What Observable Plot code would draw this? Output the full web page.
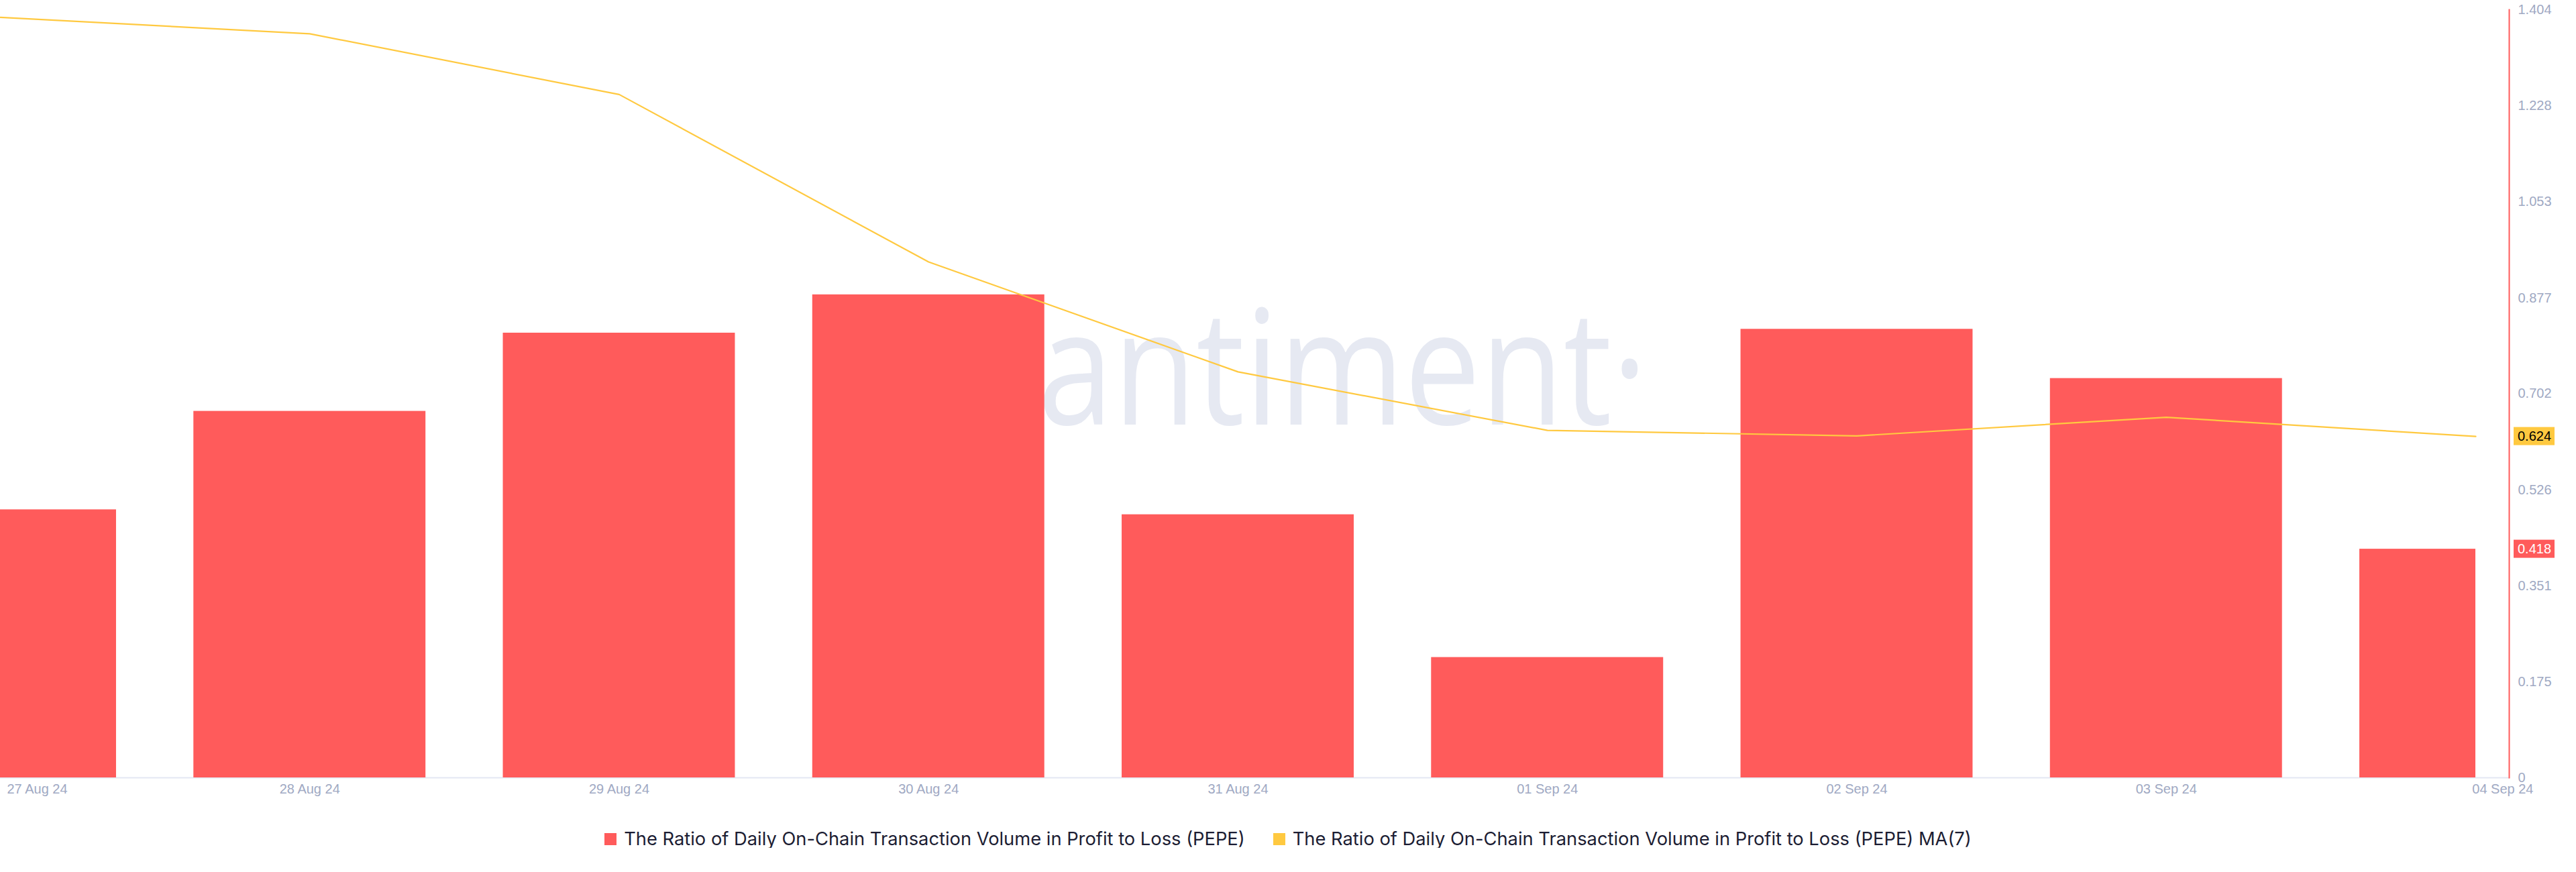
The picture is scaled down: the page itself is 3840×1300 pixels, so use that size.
<!DOCTYPE html>
<html>
<head>
<meta charset="utf-8">
<script src="https://cdn.jsdelivr.net/npm/d3@7"></script>
<script src="https://cdn.jsdelivr.net/npm/@observablehq/plot@0.6"></script>
<style>
  body { margin: 0; background: #ffffff; }
  #legend {
    display: flex; justify-content: center; align-items: center; gap: 42px;
    margin-top: 38px; font-family: Inter, "Noto Sans", sans-serif; font-size: 27.3px;
    line-height: 26px; color: #1c1d33;
  }
  #legend .item { display: flex; align-items: center; gap: 11px; }
  #legend .sw { width: 18px; height: 18px; }
</style>
</head>
<body>
<div id="chart"></div>
<div id="legend"></div>
<script>
// Daily values for PEPE, 27 Aug – 04 Sep 2024
const dates = ["2024-08-27", "2024-08-28", "2024-08-29", "2024-08-30", "2024-08-31",
               "2024-09-01", "2024-09-02", "2024-09-03", "2024-09-04"];
const ratio = [0.490, 0.670, 0.813, 0.883, 0.481, 0.220, 0.820, 0.730, 0.418];
const ratioMA7 = [1.390, 1.360, 1.249, 0.943, 0.742, 0.635, 0.625, 0.659, 0.624];
const yTicks = [0, 0.175, 0.351, 0.526, 0.702, 0.877, 1.053, 1.228, 1.404];
const seriesNames = [
  "The Ratio of Daily On-Chain Transaction Volume in Profit to Loss (PEPE)",
  "The Ratio of Daily On-Chain Transaction Volume in Profit to Loss (PEPE) MA(7)"
];
const seriesColors = ["#ff5b5b", "#ffc940"];
const badgeTextColors = ["#ffffff", "#000000"];

const data = dates.map((d, i) => ({date: new Date(d), ratio: ratio[i], ma: ratioMA7[i]}));
const start = data[0].date, end = data[data.length - 1].date;
const halfBar = 9 * 3600 * 1000; // bars take 75% of each day
const fmtDate = d3.utcFormat("%d %b %y");
const fmtVal = v => v === 0 ? "0" : v.toFixed(3);

// faint brand mark behind the bars
function watermark(index, scales, values, dim) {
  const fw = dim.width - dim.marginLeft - dim.marginRight;
  const fh = dim.height - dim.marginTop - dim.marginBottom;
  const t = d3.create("svg:text")
    .attr("x", dim.marginLeft + fw * 0.5223)
    .attr("y", dim.marginTop + fh * 0.5406)
    .attr("text-anchor", "middle")
    .attr("font-family", "Open Sans, sans-serif")
    .attr("font-size", 238)
    .attr("fill", "#e6e9f2")
    .attr("textLength", 1005)
    .attr("lengthAdjust", "spacingAndGlyphs")
    .text("santiment\u00b7");
  return t.node();
}

// latest-value badges on the right axis
function badges(index, scales, values, dim) {
  const g = d3.create("svg:g")
    .attr("font-family", "Liberation Sans, Arial, sans-serif")
    .attr("font-size", 20)
    .attr("text-anchor", "start");
  const x0 = dim.width - dim.marginRight + 7;
  const last = [ratio[ratio.length - 1], ratioMA7[ratioMA7.length - 1]];
  [1, 0].forEach(k => {
    const v = last[k];
    const y = scales.y(v);
    g.append("rect").attr("x", x0).attr("y", y - 13.5).attr("width", 61).attr("height", 27)
      .attr("fill", seriesColors[k]);
    g.append("text").attr("x", x0 + 6).attr("y", y).attr("dy", "0.36em")
      .attr("fill", badgeTextColors[k]).text(fmtVal(v));
  });
  return g.node();
}

const labelStyle = {fill: "#a0a9c3", fontSize: 20, frameAnchor: "bottom", dy: 23, text: d => fmtDate(d.date)};

const chart = Plot.plot({
  width: 3840,
  height: 1200,
  marginTop: 14,
  marginBottom: 41,
  marginLeft: 0,
  marginRight: 100,
  style: {fontFamily: "Liberation Sans, Arial, sans-serif", fontSize: "20px", background: "#ffffff"},
  x: {type: "utc", domain: [start, end], range: [0, 3690], axis: null},
  y: {domain: [0, 1.404], axis: null},
  marks: [
    watermark,
    Plot.ruleY([0], {stroke: "#e3e7f3", strokeWidth: 2}),
    Plot.rectY(data, {
      x1: d => new Date(Math.max(+d.date - halfBar, +start)),
      x2: d => new Date(Math.min(+d.date + halfBar, +end)),
      y: "ratio",
      fill: seriesColors[0]
    }),
    Plot.line(data, {x: "date", y: "ma", stroke: seriesColors[1], strokeWidth: 2.2}),
    Plot.frame({anchor: "right", stroke: seriesColors[0], strokeWidth: 2, strokeOpacity: 1}),
    Plot.axisY({anchor: "right", ticks: yTicks, tickFormat: fmtVal, tickSize: 0, tickPadding: 13,
                color: "#a0a9c3", fontSize: 20, label: null}),
    Plot.text(data.slice(0, 1), {...labelStyle, x: "date", textAnchor: "start", dx: 10}),
    Plot.text(data.slice(1, -1), {...labelStyle, x: "date", textAnchor: "middle"}),
    Plot.text(data.slice(-1), {...labelStyle, x: "date", textAnchor: "end", dx: 86}),
    badges
  ]
});
document.getElementById("chart").append(chart);

const legend = d3.select("#legend");
seriesNames.forEach((name, i) => {
  const item = legend.append("div").attr("class", "item");
  item.append("div").attr("class", "sw").style("background", seriesColors[i]);
  item.append("span").text(name);
});
</script>
</body>
</html>
